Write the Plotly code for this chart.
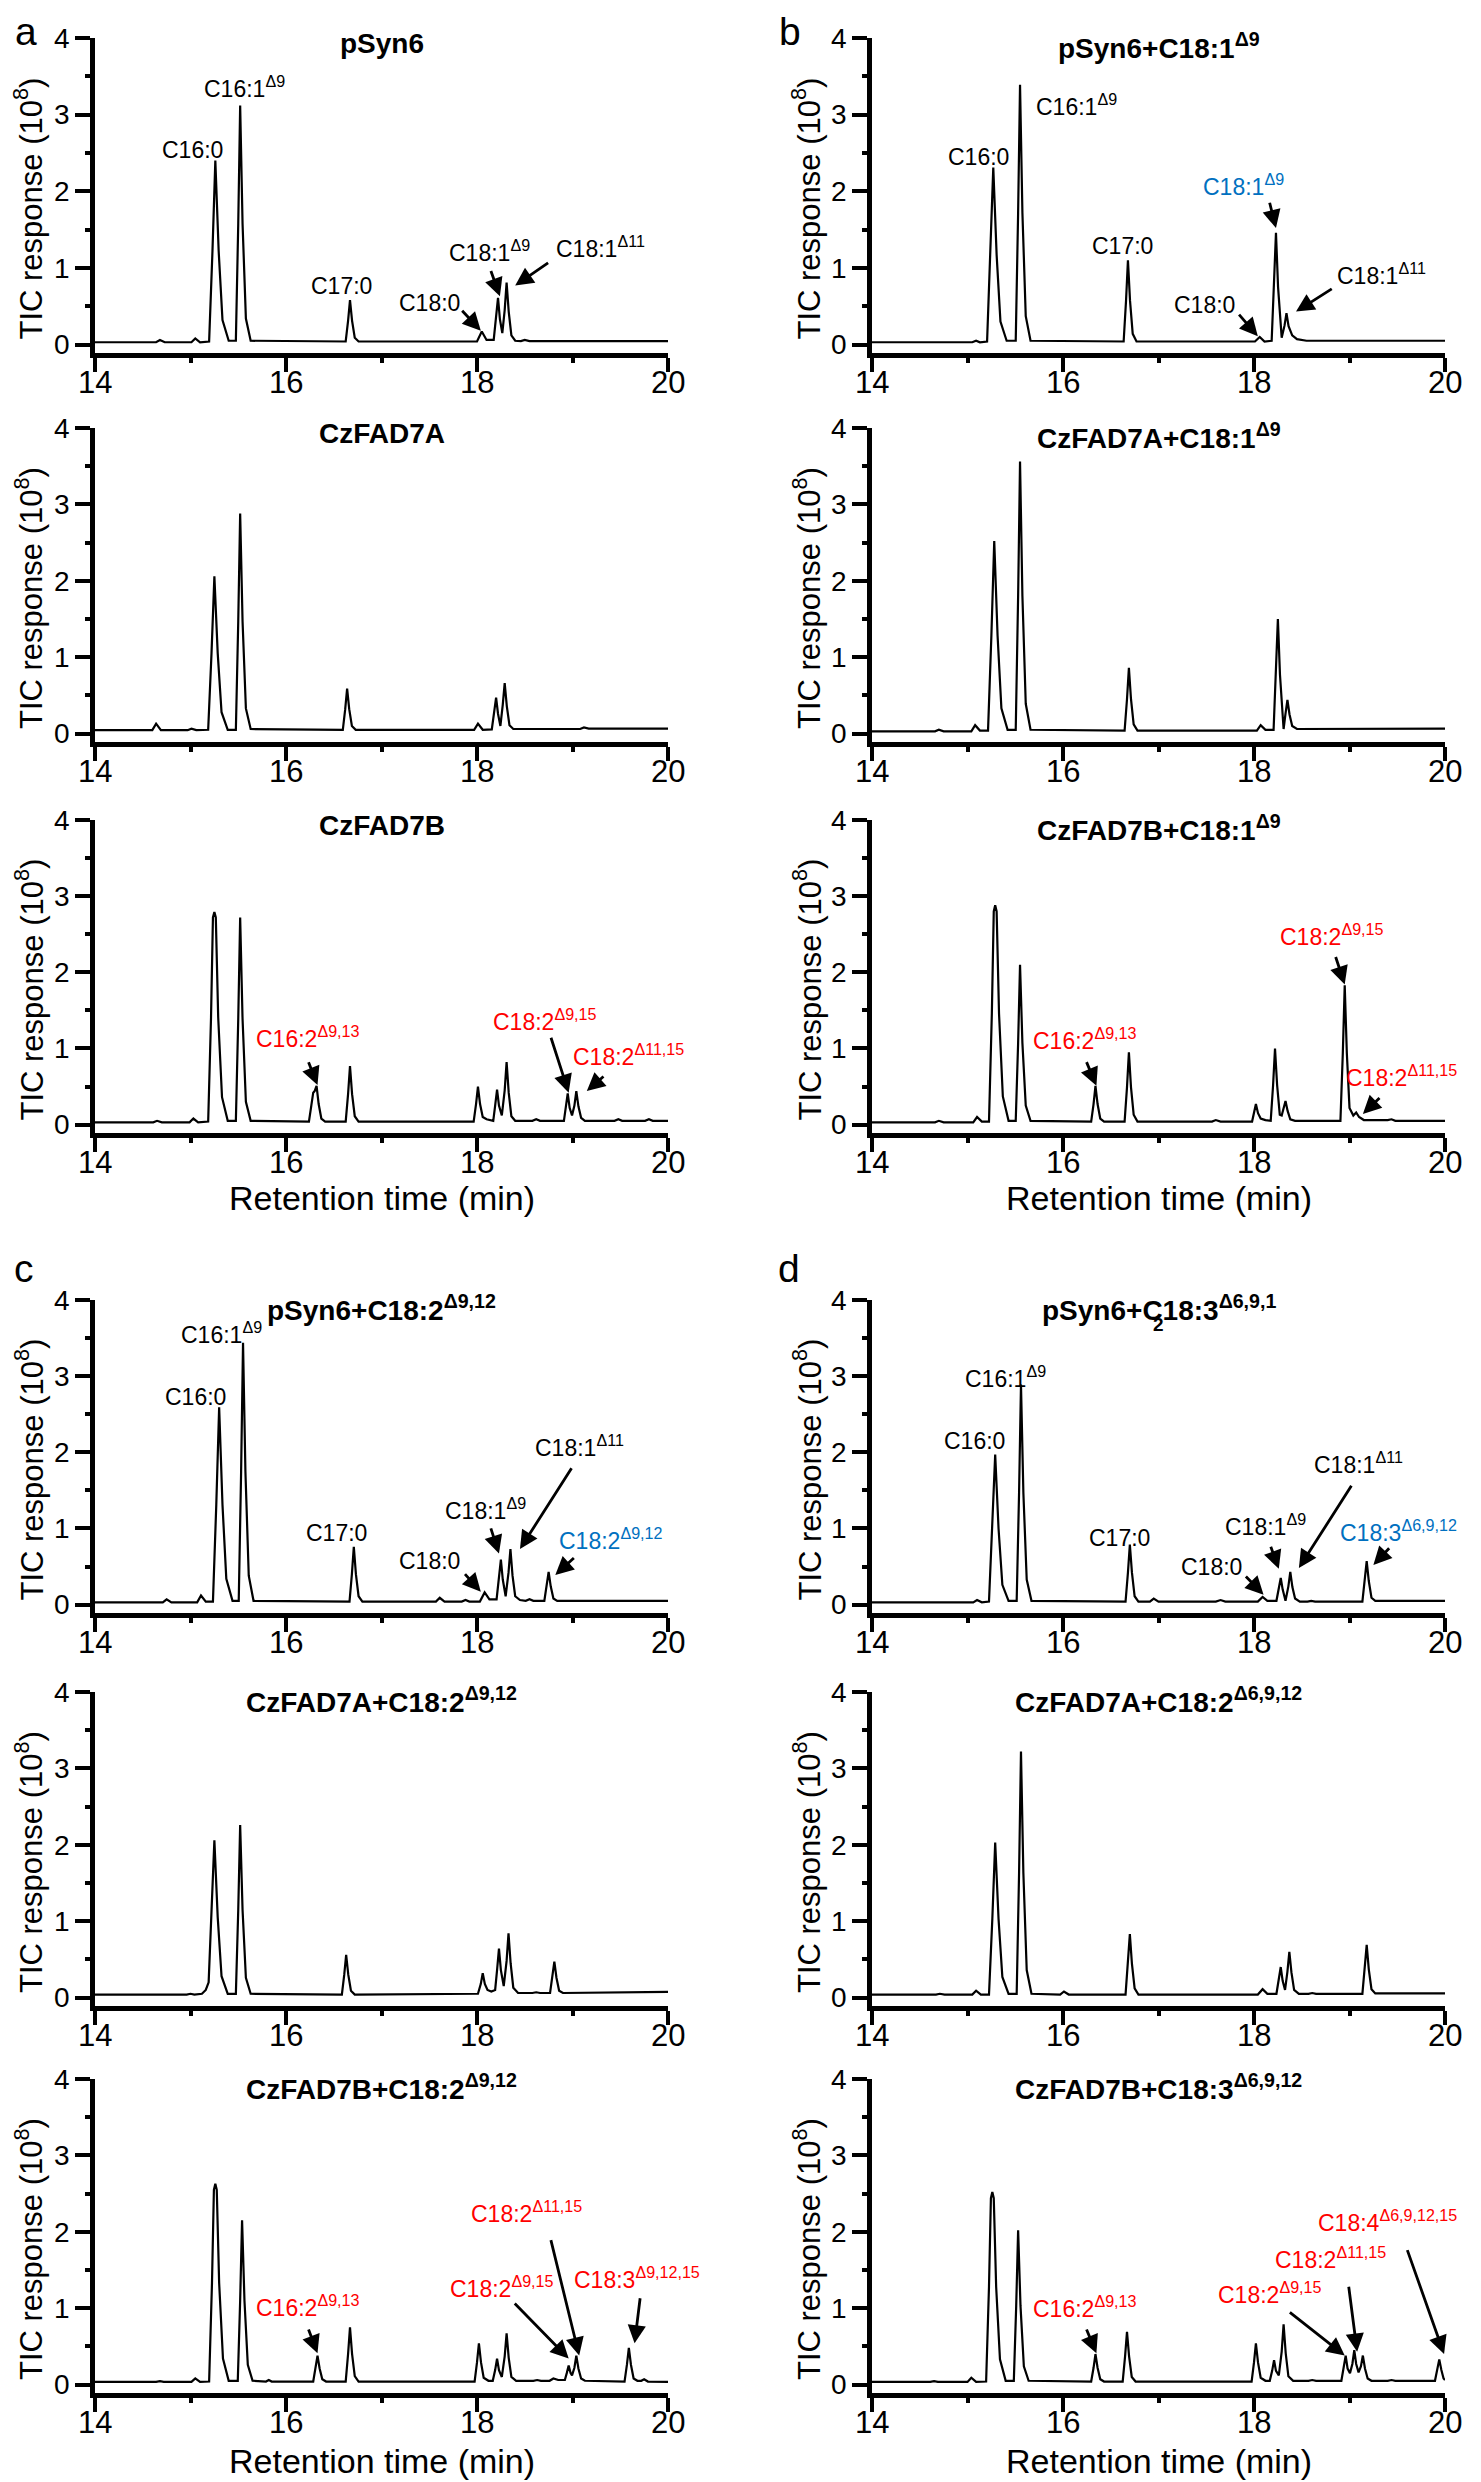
import plotly.graph_objects as go

W, H = 1481, 2482
FONT = "Liberation Sans, Arial, sans-serif"
RED = "#ff0000"
BLUE = "#0070c0"

# ---------------- chromatogram vertices (retention time, min ; TIC response, 1e8) ----------------
a1_t = [14.00, 14.64, 14.68, 14.73, 15.01, 15.05, 15.10, 15.195, 15.23, 15.26, 15.295, 15.335, 15.40,
        15.475, 15.50, 15.52, 15.545, 15.58, 15.63, 16.625, 16.65, 16.67, 16.692, 16.72, 16.76,
        18.00, 18.05, 18.10, 18.175, 18.20, 18.22, 18.24, 18.265, 18.29, 18.31, 18.332, 18.36, 18.40,
        18.46, 18.50, 18.55, 20.00]
a1_v = [0.03, 0.03, 0.06, 0.03, 0.03, 0.08, 0.03, 0.04, 1.22, 2.40, 1.22, 0.32, 0.05,
        0.05, 1.58, 3.12, 1.58, 0.34, 0.05, 0.04, 0.31, 0.58, 0.31, 0.09, 0.04,
        0.04, 0.17, 0.06, 0.06, 0.33, 0.61, 0.33, 0.15, 0.45, 0.81, 0.43, 0.12, 0.05,
        0.045, 0.06, 0.045, 0.045]

b1_t = [14.00, 15.05, 15.09, 15.13, 15.205, 15.24, 15.27, 15.305, 15.345, 15.41, 15.505, 15.53, 15.55,
        15.575, 15.61, 15.66, 16.635, 16.66, 16.68, 16.702, 16.73, 16.77, 18.01, 18.06, 18.11, 18.185,
        18.21, 18.23, 18.252, 18.29, 18.32, 18.34, 18.362, 18.40, 18.45, 18.55, 20.00]
b1_v = [0.03, 0.03, 0.05, 0.03, 0.04, 1.17, 2.31, 1.17, 0.30, 0.05, 0.05, 1.72, 3.39,
        1.72, 0.37, 0.05, 0.04, 0.57, 1.10, 0.57, 0.14, 0.04, 0.04, 0.10, 0.04, 0.05,
        0.75, 1.46, 0.75, 0.09, 0.25, 0.41, 0.24, 0.12, 0.07, 0.05, 0.05]

a2_t = [14.00, 14.60, 14.64, 14.69, 14.97, 15.01, 15.06, 15.185, 15.22, 15.25, 15.285, 15.325, 15.39,
        15.475, 15.50, 15.52, 15.545, 15.58, 15.63, 16.595, 16.62, 16.64, 16.662, 16.69, 16.73,
        17.97, 18.01, 18.06, 18.155, 18.18, 18.20, 18.22, 18.245, 18.27, 18.29, 18.312, 18.34, 18.38,
        19.08, 19.12, 19.17, 20.00]
a2_v = [0.045, 0.045, 0.13, 0.045, 0.045, 0.065, 0.045, 0.05, 1.05, 2.06, 1.05, 0.28, 0.05,
        0.05, 1.47, 2.88, 1.47, 0.33, 0.06, 0.05, 0.32, 0.59, 0.32, 0.10, 0.05,
        0.05, 0.13, 0.05, 0.055, 0.26, 0.47, 0.26, 0.10, 0.38, 0.66, 0.36, 0.11, 0.06,
        0.06, 0.08, 0.065, 0.065]

b2_t = [14.00, 14.66, 14.70, 14.75, 15.04, 15.08, 15.13, 15.215, 15.25, 15.28, 15.315, 15.355, 15.42,
        15.505, 15.53, 15.55, 15.575, 15.61, 15.66, 16.645, 16.67, 16.69, 16.712, 16.74, 16.78,
        18.03, 18.07, 18.12, 18.205, 18.23, 18.25, 18.272, 18.31, 18.33, 18.35, 18.372, 18.40, 18.45,
        18.60, 20.00]
b2_v = [0.03, 0.03, 0.05, 0.03, 0.03, 0.11, 0.04, 0.04, 1.28, 2.52, 1.28, 0.33, 0.05,
        0.05, 1.80, 3.56, 1.80, 0.39, 0.05, 0.04, 0.45, 0.86, 0.45, 0.12, 0.04,
        0.04, 0.11, 0.05, 0.05, 0.77, 1.50, 0.77, 0.06, 0.26, 0.44, 0.25, 0.10, 0.06,
        0.06, 0.065]

a3_t = [14.00, 14.61, 14.65, 14.70, 14.99, 15.03, 15.08, 15.185, 15.215, 15.235, 15.25, 15.265, 15.29,
        15.33, 15.39, 15.475, 15.50, 15.52, 15.545, 15.58, 15.63, 16.24, 16.265, 16.285, 16.30, 16.32,
        16.342, 16.37, 16.41, 16.625, 16.65, 16.67, 16.692, 16.72, 16.76, 17.965, 17.99, 18.01, 18.032,
        18.06, 18.10, 18.15, 18.17, 18.19, 18.21, 18.23, 18.26, 18.29, 18.31, 18.332, 18.36, 18.40,
        18.58, 18.62, 18.66, 18.91, 18.932, 18.95, 18.97, 18.995, 19.02, 19.04, 19.062, 19.09, 19.13,
        19.44, 19.48, 19.52, 19.76, 19.80, 19.84, 20.00]
a3_v = [0.03, 0.03, 0.05, 0.03, 0.03, 0.08, 0.03, 0.04, 1.41, 2.72, 2.79, 2.72, 1.41,
        0.36, 0.05, 0.05, 1.39, 2.72, 1.39, 0.30, 0.05, 0.04, 0.25, 0.42, 0.44, 0.51,
        0.27, 0.08, 0.04, 0.04, 0.40, 0.77, 0.40, 0.11, 0.04, 0.04, 0.27, 0.50, 0.27,
        0.10, 0.07, 0.05, 0.05, 0.25, 0.46, 0.25, 0.12, 0.45, 0.82, 0.42, 0.11, 0.05,
        0.05, 0.07, 0.05, 0.05, 0.22, 0.41, 0.22, 0.12, 0.25, 0.44, 0.24, 0.09, 0.05,
        0.05, 0.07, 0.05, 0.05, 0.07, 0.05, 0.05]

b3_t = [14.00, 14.66, 14.70, 14.75, 15.06, 15.10, 15.15, 15.225, 15.255, 15.275, 15.29, 15.305, 15.33,
        15.37, 15.43, 15.505, 15.53, 15.55, 15.575, 15.61, 15.66, 16.295, 16.32, 16.34, 16.362, 16.39,
        16.43, 16.645, 16.67, 16.69, 16.712, 16.74, 16.78, 17.56, 17.60, 17.65, 17.98, 18.00, 18.02,
        18.042, 18.07, 18.12, 18.175, 18.20, 18.22, 18.242, 18.27, 18.29, 18.31, 18.33, 18.352, 18.38,
        18.43, 18.905, 18.93, 18.95, 18.972, 19.00, 19.04, 19.07, 19.10, 19.15, 19.40, 19.44, 19.48, 20.00]
b3_v = [0.03, 0.03, 0.05, 0.03, 0.03, 0.10, 0.04, 0.04, 1.46, 2.80, 2.88, 2.80, 1.46,
        0.37, 0.05, 0.05, 1.07, 2.10, 1.07, 0.25, 0.05, 0.04, 0.27, 0.51, 0.27, 0.08,
        0.04, 0.04, 0.49, 0.95, 0.49, 0.13, 0.04, 0.04, 0.06, 0.04, 0.04, 0.15, 0.27,
        0.15, 0.08, 0.06, 0.05, 0.52, 1.00, 0.52, 0.13, 0.12, 0.20, 0.31, 0.18, 0.07,
        0.05, 0.05, 0.94, 1.83, 0.94, 0.22, 0.12, 0.16, 0.10, 0.06, 0.06, 0.07, 0.05, 0.05]

c1_t = [14.00, 14.71, 14.75, 14.80, 15.07, 15.11, 15.16, 15.235, 15.27, 15.30, 15.335, 15.375, 15.44,
        15.505, 15.53, 15.55, 15.575, 15.61, 15.66, 16.665, 16.69, 16.71, 16.732, 16.76, 16.80,
        17.57, 17.61, 17.66, 17.84, 17.88, 17.92, 18.03, 18.08, 18.13, 18.205, 18.23, 18.25, 18.27,
        18.30, 18.33, 18.35, 18.372, 18.40, 18.45, 18.51, 18.55, 18.59, 18.705, 18.73, 18.75, 18.772,
        18.80, 18.84, 20.00]
c1_v = [0.03, 0.03, 0.07, 0.03, 0.03, 0.12, 0.04, 0.04, 1.31, 2.59, 1.31, 0.34, 0.05,
        0.05, 1.75, 3.44, 1.75, 0.38, 0.05, 0.04, 0.40, 0.76, 0.40, 0.11, 0.04,
        0.04, 0.09, 0.04, 0.04, 0.06, 0.04, 0.04, 0.16, 0.07, 0.07, 0.33, 0.59, 0.33,
        0.11, 0.42, 0.73, 0.38, 0.11, 0.06, 0.05, 0.07, 0.05, 0.05, 0.24, 0.43, 0.24,
        0.08, 0.05, 0.05]

d1_t = [14.00, 15.06, 15.10, 15.15, 15.225, 15.26, 15.29, 15.325, 15.365, 15.43, 15.515, 15.54, 15.56,
        15.585, 15.62, 15.67, 16.655, 16.68, 16.70, 16.722, 16.75, 16.79, 16.91, 16.95, 17.00,
        17.60, 17.65, 17.70, 18.04, 18.09, 18.14, 18.235, 18.26, 18.28, 18.30, 18.33, 18.36, 18.38,
        18.402, 18.43, 18.48, 18.56, 18.60, 18.64, 19.135, 19.16, 19.18, 19.202, 19.23, 19.27, 20.00]
d1_v = [0.03, 0.03, 0.06, 0.03, 0.04, 1.00, 1.97, 1.00, 0.26, 0.05, 0.05, 1.47, 2.89,
        1.47, 0.33, 0.05, 0.04, 0.42, 0.79, 0.42, 0.11, 0.04, 0.04, 0.08, 0.04,
        0.04, 0.06, 0.04, 0.04, 0.10, 0.05, 0.05, 0.20, 0.35, 0.20, 0.05, 0.24, 0.43,
        0.23, 0.08, 0.04, 0.04, 0.05, 0.04, 0.04, 0.31, 0.57, 0.31, 0.09, 0.05, 0.05]

c2_t = [14.00, 14.96, 15.00, 15.04, 15.12, 15.16, 15.19, 15.22, 15.25, 15.285, 15.325, 15.39,
        15.475, 15.50, 15.52, 15.545, 15.58, 15.63, 16.585, 16.61, 16.63, 16.652, 16.68, 16.72,
        18.01, 18.04, 18.06, 18.082, 18.11, 18.15, 18.19, 18.21, 18.23, 18.25, 18.28, 18.31, 18.33,
        18.352, 18.38, 18.43, 18.58, 18.62, 18.66, 18.765, 18.79, 18.81, 18.832, 18.86, 18.90, 20.00]
c2_v = [0.04, 0.04, 0.05, 0.04, 0.05, 0.10, 0.20, 1.05, 2.06, 1.05, 0.28, 0.05,
        0.05, 1.15, 2.26, 1.15, 0.26, 0.05, 0.04, 0.30, 0.56, 0.30, 0.09, 0.04,
        0.05, 0.18, 0.32, 0.18, 0.10, 0.08, 0.10, 0.36, 0.64, 0.36, 0.15, 0.48, 0.84,
        0.45, 0.13, 0.06, 0.06, 0.07, 0.06, 0.06, 0.26, 0.47, 0.26, 0.09, 0.06, 0.075]

d2_t = [14.00, 14.67, 14.71, 14.76, 15.05, 15.09, 15.14, 15.225, 15.26, 15.29, 15.325, 15.365, 15.43,
        15.515, 15.54, 15.56, 15.585, 15.62, 15.67, 15.97, 16.01, 16.06, 16.655, 16.68, 16.70, 16.722,
        16.75, 16.79, 18.04, 18.09, 18.14, 18.235, 18.26, 18.28, 18.30, 18.325, 18.35, 18.37, 18.392,
        18.42, 18.47, 18.57, 18.61, 18.65, 19.135, 19.16, 19.18, 19.202, 19.23, 19.27, 20.00]
d2_v = [0.04, 0.04, 0.05, 0.04, 0.04, 0.09, 0.04, 0.04, 1.03, 2.03, 1.03, 0.27, 0.05,
        0.05, 1.63, 3.22, 1.63, 0.36, 0.05, 0.04, 0.08, 0.04, 0.04, 0.44, 0.83, 0.44,
        0.12, 0.04, 0.04, 0.11, 0.05, 0.05, 0.22, 0.40, 0.22, 0.10, 0.34, 0.60, 0.33,
        0.10, 0.05, 0.05, 0.06, 0.05, 0.05, 0.37, 0.69, 0.37, 0.11, 0.055, 0.055]

c3_t = [14.00, 14.64, 14.68, 14.72, 15.01, 15.05, 15.10, 15.195, 15.225, 15.245, 15.26, 15.275, 15.30,
        15.34, 15.40, 15.495, 15.52, 15.54, 15.565, 15.60, 15.65, 15.79, 15.82, 15.85, 16.285, 16.31,
        16.33, 16.352, 16.38, 16.42, 16.625, 16.65, 16.67, 16.692, 16.72, 16.76, 17.975, 18.00, 18.02,
        18.042, 18.07, 18.12, 18.165, 18.19, 18.21, 18.23, 18.26, 18.29, 18.31, 18.332, 18.36, 18.41,
        18.59, 18.63, 18.67, 18.76, 18.80, 18.85, 18.92, 18.94, 18.96, 18.98, 18.995, 19.02, 19.04,
        19.062, 19.09, 19.13, 19.545, 19.57, 19.59, 19.612, 19.64, 19.68, 19.72, 19.75, 19.79, 20.00]
c3_v = [0.035, 0.035, 0.045, 0.035, 0.035, 0.08, 0.035, 0.04, 1.33, 2.55, 2.63, 2.55, 1.33,
        0.34, 0.05, 0.05, 1.10, 2.15, 1.10, 0.26, 0.05, 0.04, 0.06, 0.04, 0.04, 0.21,
        0.38, 0.21, 0.07, 0.04, 0.04, 0.40, 0.75, 0.40, 0.11, 0.04, 0.04, 0.29, 0.54,
        0.29, 0.09, 0.05, 0.05, 0.19, 0.34, 0.19, 0.10, 0.37, 0.67, 0.35, 0.10, 0.05,
        0.05, 0.06, 0.05, 0.05, 0.08, 0.06, 0.06, 0.15, 0.25, 0.15, 0.12, 0.22, 0.38,
        0.21, 0.08, 0.05, 0.04, 0.26, 0.48, 0.26, 0.08, 0.05, 0.05, 0.07, 0.04, 0.035]

d3_t = [14.00, 14.61, 14.65, 14.69, 15.00, 15.04, 15.09, 15.195, 15.225, 15.245, 15.26, 15.275, 15.30,
        15.34, 15.40, 15.485, 15.51, 15.53, 15.555, 15.59, 15.64, 16.295, 16.32, 16.34, 16.362, 16.39,
        16.43, 16.625, 16.65, 16.67, 16.692, 16.72, 16.76, 17.975, 18.00, 18.02, 18.042, 18.07, 18.12,
        18.165, 18.19, 18.21, 18.23, 18.26, 18.29, 18.31, 18.332, 18.36, 18.41, 18.57, 18.61, 18.65,
        18.915, 18.94, 18.96, 18.98, 19.005, 19.03, 19.05, 19.07, 19.095, 19.12, 19.14, 19.162, 19.19,
        19.23, 19.40, 19.44, 19.48, 19.895, 19.92, 19.94, 19.962, 19.985, 20.00]
d3_v = [0.035, 0.035, 0.045, 0.035, 0.035, 0.09, 0.035, 0.04, 1.28, 2.44, 2.52, 2.44, 1.28,
        0.33, 0.05, 0.05, 1.03, 2.02, 1.03, 0.24, 0.05, 0.04, 0.22, 0.40, 0.22, 0.07,
        0.04, 0.04, 0.37, 0.69, 0.37, 0.10, 0.04, 0.04, 0.29, 0.54, 0.29, 0.09, 0.05,
        0.05, 0.18, 0.32, 0.18, 0.12, 0.43, 0.79, 0.41, 0.11, 0.05, 0.05, 0.06, 0.05,
        0.05, 0.21, 0.38, 0.21, 0.15, 0.27, 0.45, 0.27, 0.16, 0.24, 0.38, 0.21, 0.08,
        0.05, 0.05, 0.06, 0.05, 0.05, 0.19, 0.33, 0.19, 0.08, 0.06]

# ---------------- panel titles ----------------
titles = {
    "a1": "pSyn6", "b1": "pSyn6+C18:1<sup>Δ9</sup>",
    "a2": "CzFAD7A", "b2": "CzFAD7A+C18:1<sup>Δ9</sup>",
    "a3": "CzFAD7B", "b3": "CzFAD7B+C18:1<sup>Δ9</sup>",
    "c1": "pSyn6+C18:2<sup>Δ9,12</sup>", "d1": "pSyn6+C18:3<sup>Δ6,9,1</sup>",
    "c2": "CzFAD7A+C18:2<sup>Δ9,12</sup>", "d2": "CzFAD7A+C18:2<sup>Δ6,9,12</sup>",
    "c3": "CzFAD7B+C18:2<sup>Δ9,12</sup>", "d3": "CzFAD7B+C18:3<sup>Δ6,9,12</sup>",
}

# ---------------- peak labels: (text, x, y, colour); colour code ending in "R" = right-aligned at the panel edge ----------------
labels = {
    "a1": [("C16:0", 15.02, 2.54, "k"), ("C16:1<sup>Δ9</sup>", 15.57, 3.36, "k"), ("C17:0", 16.58, 0.76, "k"),
           ("C18:0", 17.50, 0.54, "k"), ("C18:1<sup>Δ9</sup>", 18.13, 1.22, "k"), ("C18:1<sup>Δ11</sup>", 19.29, 1.27, "k")],
    "b1": [("C16:0", 15.12, 2.45, "k"), ("C16:1<sup>Δ9</sup>", 16.14, 3.12, "k"), ("C17:0", 16.62, 1.28, "k"),
           ("C18:1<sup>Δ9</sup>", 17.89, 2.08, "b"), ("C18:0", 17.48, 0.52, "k"), ("C18:1<sup>Δ11</sup>", 19.33, 0.92, "k")],
    "a2": [], "b2": [],
    "a3": [("C16:2<sup>Δ9,13</sup>", 16.23, 1.15, "r"), ("C18:2<sup>Δ9,15</sup>", 18.71, 1.38, "r"),
           ("C18:2<sup>Δ11,15</sup>", 19.59, 0.91, "r")],
    "b3": [("C16:2<sup>Δ9,13</sup>", 16.23, 1.13, "r"), ("C18:2<sup>Δ9,15</sup>", 18.81, 2.49, "r"),
           ("C18:2<sup>Δ11,15</sup>", 20.0, 0.64, "rR")],
    "c1": [("C16:0", 15.05, 2.72, "k"), ("C16:1<sup>Δ9</sup>", 15.32, 3.57, "k"), ("C17:0", 16.53, 0.94, "k"),
           ("C18:0", 17.50, 0.57, "k"), ("C18:1<sup>Δ9</sup>", 18.09, 1.25, "k"), ("C18:1<sup>Δ11</sup>", 19.07, 2.08, "k"),
           ("C18:2<sup>Δ9,12</sup>", 19.40, 0.86, "b")],
    "d1": [("C16:0", 15.07, 2.15, "k"), ("C16:1<sup>Δ9</sup>", 15.40, 2.99, "k"), ("C17:0", 16.59, 0.87, "k"),
           ("C18:0", 17.56, 0.49, "k"), ("C18:1<sup>Δ9</sup>", 18.12, 1.04, "k"), ("C18:1<sup>Δ11</sup>", 19.09, 1.86, "k"),
           ("C18:3<sup>Δ6,9,12</sup>", 20.0, 0.97, "bR")],
    "c2": [], "d2": [],
    "c3": [("C16:2<sup>Δ9,13</sup>", 16.23, 1.03, "r"), ("C18:2<sup>Δ9,15</sup>", 18.26, 1.28, "r"),
           ("C18:2<sup>Δ11,15</sup>", 18.52, 2.26, "r"), ("C18:3<sup>Δ9,12,15</sup>", 19.68, 1.40, "r")],
    "d3": [("C16:2<sup>Δ9,13</sup>", 16.23, 1.01, "r"), ("C18:2<sup>Δ9,15</sup>", 18.16, 1.20, "r"),
           ("C18:2<sup>Δ11,15</sup>", 18.80, 1.66, "r"), ("C18:4<sup>Δ6,9,12,15</sup>", 20.0, 2.14, "rR")],
}

# ---------------- arrows: (tip x, tip y, tail x, tail y) ----------------
arrows = {
    "a1": [(18.04, 0.18, 17.83, 0.46), (18.24, 0.63, 18.14, 0.98), (18.40, 0.77, 18.76, 1.08)],
    "b1": [(18.23, 1.52, 18.16, 1.87), (18.04, 0.11, 17.83, 0.41), (18.44, 0.43, 18.83, 0.74)],
    "a2": [], "b2": [],
    "a3": [(16.33, 0.52, 16.23, 0.84), (18.96, 0.42, 18.77, 1.16), (19.15, 0.44, 19.34, 0.65)],
    "b3": [(16.35, 0.51, 16.24, 0.84), (18.95, 1.84, 18.85, 2.22), (19.14, 0.14, 19.33, 0.37)],
    "c1": [(18.04, 0.17, 17.86, 0.42), (18.23, 0.67, 18.14, 1.02), (18.45, 0.73, 19.00, 1.81),
           (18.82, 0.39, 19.03, 0.63)],
    "d1": [(18.10, 0.13, 17.90, 0.39), (18.26, 0.47, 18.17, 0.78), (18.47, 0.48, 19.03, 1.58),
           (19.25, 0.52, 19.43, 0.76)],
    "c2": [], "d2": [],
    "c3": [(16.33, 0.41, 16.23, 0.74), (18.96, 0.34, 18.38, 1.08), (19.07, 0.38, 18.77, 1.91),
           (19.65, 0.54, 19.71, 1.15)],
    "d3": [(16.35, 0.41, 16.24, 0.74), (18.95, 0.38, 18.36, 0.96), (19.08, 0.43, 18.99, 1.30),
           (19.99, 0.40, 19.60, 1.78)],
}

series = {"a1": (a1_t, a1_v), "b1": (b1_t, b1_v), "a2": (a2_t, a2_v), "b2": (b2_t, b2_v),
          "a3": (a3_t, a3_v), "b3": (b3_t, b3_v), "c1": (c1_t, c1_v), "d1": (d1_t, d1_v),
          "c2": (c2_t, c2_v), "d2": (d2_t, d2_v), "c3": (c3_t, c3_v), "d3": (d3_t, d3_v)}

x_ticks = [14, 16, 18, 20]
y_ticks = [0, 1, 2, 3, 4]

# ---------------- layout geometry (pixels) ----------------
col_px = {"L": (87, 660), "R": (864, 1437)}
row_px = [(30, 345), (420, 734), (812, 1125), (1292, 1605), (1684, 1998), (2071, 2385)]
panel_pos = {"a1": ("L", 0), "b1": ("R", 0), "a2": ("L", 1), "b2": ("R", 1), "a3": ("L", 2), "b3": ("R", 2),
             "c1": ("L", 3), "d1": ("R", 3), "c2": ("L", 4), "d2": ("R", 4), "c3": ("L", 5), "d3": ("R", 5)}

colmap = {"k": "black", "r": RED, "b": BLUE}

fig = go.Figure()
layout = dict(width=W, height=H, margin=dict(l=0, r=0, t=0, b=0, pad=0, autoexpand=False),
              paper_bgcolor="white", plot_bgcolor="white", showlegend=False,
              font=dict(family=FONT, color="black"))
annotations = []

for i, key in enumerate(["a1", "b1", "a2", "b2", "a3", "b3", "c1", "d1", "c2", "d2", "c3", "d3"], start=1):
    col, row = panel_pos[key]
    x0, x1 = col_px[col]
    top, bot = row_px[row]
    xa = "x" if i == 1 else f"x{i}"
    ya = "y" if i == 1 else f"y{i}"
    t, v = series[key]
    fig.add_trace(go.Scatter(x=t, y=v, mode="lines", line=dict(color="black", width=2.2),
                             xaxis=xa, yaxis=ya, hoverinfo="skip"))
    layout["xaxis" if i == 1 else f"xaxis{i}"] = dict(
        domain=[x0 / W, x1 / W], anchor=ya, range=[14, 20], tickvals=x_ticks, showticklabels=False,
        ticks="outside", ticklen=14, tickwidth=4, tickcolor="black", automargin=False,
        showline=True, linewidth=4.5, linecolor="black", showgrid=False, zeroline=False,
        minor=dict(dtick=1, tick0=14, ticks="outside", ticklen=5, tickwidth=4, tickcolor="black", showgrid=False))
    layout["yaxis" if i == 1 else f"yaxis{i}"] = dict(
        domain=[1 - bot / H, 1 - top / H], anchor=xa, range=[-0.11, 4], tickvals=y_ticks,
        ticks="outside", ticklen=15, tickwidth=4, tickcolor="black", automargin=False,
        showline=True, linewidth=4.5, linecolor="black", showgrid=False, zeroline=False,
        tickfont=dict(size=28, family=FONT, color="black"),
        minor=dict(dtick=0.5, tick0=0, ticks="outside", ticklen=5, tickwidth=4, tickcolor="black", showgrid=False))

    # x tick labels
    for tv in x_ticks:
        annotations.append(dict(text=str(tv), xref=xa, yref=f"{ya} domain", x=tv, y=0,
                                xanchor="center", yanchor="middle", yshift=-29, showarrow=False,
                                font=dict(size=31, family=FONT, color="black")))
    # panel title
    annotations.append(dict(text="<b>" + titles[key] + "</b>", xref=f"{xa} domain", yref=f"{ya} domain",
                            x=0.5, y=1, xanchor="center", yanchor="top", yshift=12, showarrow=False,
                            font=dict(size=28, family=FONT, color="black")))
    # y-axis title
    ycen = (top + bot) / 2 + 13
    xt = 21 if col == "L" else 799
    annotations.append(dict(text="TIC response (10<sup>8</sup>)", xref="paper", yref="paper",
                            x=xt / W, y=1 - ycen / H, xanchor="center", yanchor="middle",
                            textangle=-90, showarrow=False, font=dict(size=31, family=FONT, color="black")))
    # peak labels
    for txt, lx, ly, c in labels[key]:
        right = c.endswith("R")
        annotations.append(dict(text=txt, xref=xa, yref=ya, x=lx, y=ly, showarrow=False,
                                xanchor="right" if right else "center", yanchor="middle",
                                xshift=14 if right else 0,
                                font=dict(size=23, family=FONT, color=colmap[c[0]])))
    for tx, ty, sx, sy in arrows[key]:
        annotations.append(dict(text="", xref=xa, yref=ya, x=tx, y=ty, axref=xa, ayref=ya, ax=sx, ay=sy,
                                showarrow=True, arrowhead=2, arrowsize=1.3, arrowwidth=2.8,
                                arrowcolor="black", standoff=0, startstandoff=0))
    if key == "d1":
        annotations.append(dict(text="<b>2</b>", xref=f"{xa} domain", yref=f"{ya} domain",
                                x=(1150 - x0) / (x1 - x0), y=(bot - 1316) / (bot - top),
                                xanchor="center", yanchor="middle", showarrow=False,
                                font=dict(size=19, family=FONT, color="black")))

# x-axis titles
for yc in (1190, 2453):
    for col in ("L", "R"):
        x0, x1 = col_px[col]
        annotations.append(dict(text="Retention time (min)", xref="paper", yref="paper",
                                x=(x0 + x1) / 2 / W, y=1 - yc / H, xanchor="center", yanchor="middle",
                                showarrow=False, font=dict(size=34, family=FONT, color="black")))

# panel letters
for letter, px, ptop in (("a", 18, 0), ("b", 782, 0), ("c", 16, 1237), ("d", 781, 1237)):
    annotations.append(dict(text=letter, xref="paper", yref="paper", x=px / W, y=1 - ptop / H,
                            xanchor="center", yanchor="top", showarrow=False,
                            font=dict(size=39, family=FONT, color="black")))

layout["annotations"] = annotations
fig.update_layout(**layout)
fig.write_html("out.html")
